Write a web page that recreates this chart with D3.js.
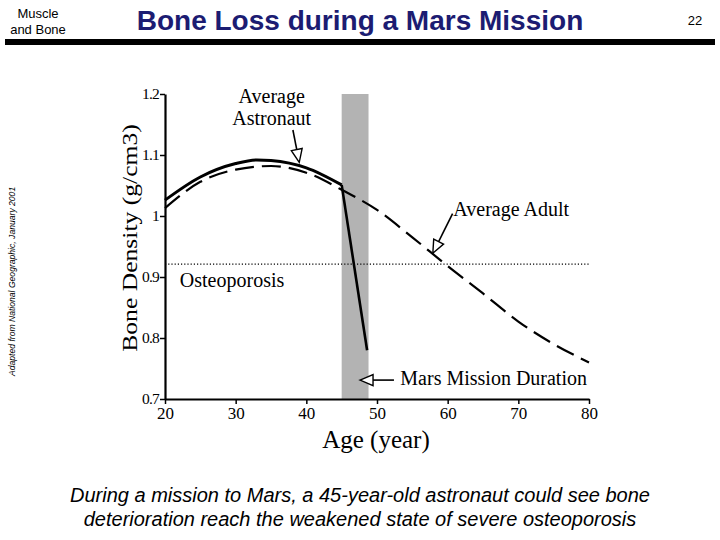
<!DOCTYPE html>
<html>
<head>
<meta charset="utf-8">
<script src="https://cdn.jsdelivr.net/npm/d3@7"></script>
<style>
  body { margin: 0; background: #fff; }
  svg { display: block; }
</style>
</head>
<body>
<svg id="chart" width="720" height="540"></svg>
<script>
"use strict";

// ages (x) and bone density (y)
var adultAges = [20, 25, 30, 35, 40, 45, 50, 55, 60, 65, 70, 75, 80];
var adultDensity = [1.013, 1.056, 1.076, 1.082, 1.071, 1.043, 1.010, 0.965, 0.918, 0.873, 0.827, 0.790, 0.760];

var astroAges = [20, 25, 30, 33, 35, 40, 45, 48.6];
var astroDensity = [1.026, 1.064, 1.086, 1.092, 1.091, 1.079, 1.051, 0.780];

var missionRange = [45, 48.8];
var osteoporosisLevel = 0.921;

var xTicks = [20, 30, 40, 50, 60, 70, 80];
var yTicks = [0.7, 0.8, 0.9, 1.0, 1.1, 1.2];

// annotation labels and arrows, in data coordinates
var labelTexts = [["Average", "Astronaut"], ["Average Adult"], ["Mars Mission Duration"], ["Osteoporosis"]];
var labelAt = [[35.1, 1.193], [60.8, 1.008], [53.3, 0.731], [22.1, 0.892]];
var labelAnchor = ["middle", "start", "start", "start"];
var arrowTail = [[38.1, 1.141], [60.7, 1.004], [52.4, 0.731]];
var arrowTip = [[39.0, 1.088], [57.9, 0.939], [47.6, 0.731]];

var captionLines = [
  "During a mission to Mars, a 45-year-old astronaut could see bone",
  "deterioration reach the weakened state of severe osteoporosis"
];

var svg = d3.select("#chart");
var serif = "'Liberation Serif', 'DejaVu Serif', serif";
var sans = "'Liberation Sans', Arial, sans-serif";

// slide header
svg.append("text").attr("x", 38).attr("y", 18)
  .attr("text-anchor", "middle").attr("font-family", sans).attr("font-size", 13)
  .text("Muscle");
svg.append("text").attr("x", 38).attr("y", 34)
  .attr("text-anchor", "middle").attr("font-family", sans).attr("font-size", 13)
  .text("and Bone");
svg.append("text").attr("x", 360).attr("y", 30)
  .attr("text-anchor", "middle").attr("font-family", sans).attr("font-size", 28)
  .attr("font-weight", "bold").attr("fill", "#1c1c72")
  .text("Bone Loss during a Mars Mission");
svg.append("text").attr("x", 695).attr("y", 25)
  .attr("text-anchor", "middle").attr("font-family", sans).attr("font-size", 13)
  .text("22");
svg.append("rect").attr("x", 5).attr("y", 39).attr("width", 710).attr("height", 6)
  .attr("fill", "#000");

svg.append("text")
  .attr("transform", "translate(15,376) rotate(-90)")
  .attr("font-family", sans).attr("font-size", 8.6).attr("font-style", "italic")
  .text("Adapted from National Geographic, January 2001");

// plot area
var margin = { left: 165, top: 94, right: 131, bottom: 141 };
var width = 720 - margin.left - margin.right;
var height = 540 - margin.top - margin.bottom;

var x = d3.scaleLinear().domain([20, 80]).range([0, width]);
var y = d3.scaleLinear().domain([0.7, 1.2]).range([height, 0]);

var g = svg.append("g")
  .attr("transform", "translate(" + margin.left + "," + margin.top + ")");

// mars mission band
g.append("rect")
  .attr("x", x(missionRange[0]))
  .attr("y", y(1.2))
  .attr("width", x(missionRange[1]) - x(missionRange[0]))
  .attr("height", y(0.7) - y(1.2))
  .attr("fill", "#b3b3b3");

// osteoporosis threshold
g.append("line")
  .attr("x1", x(20)).attr("x2", x(80))
  .attr("y1", y(osteoporosisLevel)).attr("y2", y(osteoporosisLevel))
  .attr("stroke", "#000").attr("stroke-width", 1.2)
  .attr("stroke-dasharray", "1.2,2");

var line = d3.line()
  .x(function (d) { return x(d[0]); })
  .y(function (d) { return y(d[1]); })
  .curve(d3.curveMonotoneX);

var adultData = d3.zip(adultAges, adultDensity);
var astroCurve = d3.zip(astroAges.slice(0, -1), astroDensity.slice(0, -1));
var astroDrop = d3.zip(astroAges.slice(-2), astroDensity.slice(-2));

g.append("path")
  .datum(adultData)
  .attr("d", line)
  .attr("fill", "none").attr("stroke", "#000").attr("stroke-width", 2.2)
  .attr("stroke-dasharray", "19,8");

g.append("path")
  .datum(astroCurve)
  .attr("d", line)
  .attr("fill", "none").attr("stroke", "#000").attr("stroke-width", 3);

g.append("path")
  .datum(astroDrop)
  .attr("d", d3.line().x(function (d) { return x(d[0]); }).y(function (d) { return y(d[1]); }))
  .attr("fill", "none").attr("stroke", "#000").attr("stroke-width", 2.6);

// axes
var yAxis = g.append("g")
  .call(d3.axisLeft(y).tickValues(yTicks).tickSize(5).tickSizeOuter(0).tickPadding(1)
    .tickFormat(function (d) { return d3.format("~g")(d); }));
var xAxis = g.append("g")
  .attr("transform", "translate(0," + height + ")")
  .call(d3.axisBottom(x).tickValues(xTicks).tickSize(5).tickSizeOuter(0).tickPadding(3));

[yAxis, xAxis].forEach(function (ax) {
  ax.select(".domain").attr("stroke-width", 2.2);
  ax.selectAll(".tick line").attr("stroke-width", 1.5);
  ax.selectAll("text").attr("font-family", serif).attr("fill", "#000");
});
yAxis.selectAll("text").attr("font-size", 15.5).attr("letter-spacing", -0.8);
xAxis.selectAll("text").attr("font-size", 17);

// axis titles
svg.append("text")
  .attr("transform", "translate(137,238) rotate(-90) scale(1.22,1)")
  .attr("text-anchor", "middle").attr("font-family", serif).attr("font-size", 21)
  .text("Bone Density (g/cm3)");
svg.append("text")
  .attr("x", 376).attr("y", 448)
  .attr("text-anchor", "middle").attr("font-family", serif).attr("font-size", 25)
  .text("Age (year)");

// annotations
labelTexts.forEach(function (lines, i) {
  var t = g.append("text")
    .attr("x", x(labelAt[i][0]))
    .attr("y", y(labelAt[i][1]))
    .attr("text-anchor", labelAnchor[i])
    .attr("dominant-baseline", "middle")
    .attr("font-family", serif).attr("font-size", 20);
  lines.forEach(function (s, k) {
    t.append("tspan").attr("x", x(labelAt[i][0])).attr("dy", k === 0 ? 0 : 22).text(s);
  });
});

arrowTail.forEach(function (tail, i) {
  var x0 = x(tail[0]), y0 = y(tail[1]);
  var x1 = x(arrowTip[i][0]), y1 = y(arrowTip[i][1]);
  var ang = Math.atan2(y1 - y0, x1 - x0);
  var headLen = 13, headHalf = 5.5;
  var bx = x1 - headLen * Math.cos(ang), by = y1 - headLen * Math.sin(ang);
  g.append("line")
    .attr("x1", x0).attr("y1", y0).attr("x2", bx).attr("y2", by)
    .attr("stroke", "#000").attr("stroke-width", 1.6);
  var nx = -Math.sin(ang) * headHalf, ny = Math.cos(ang) * headHalf;
  g.append("path")
    .attr("d", "M" + x1 + "," + y1 + "L" + (bx + nx) + "," + (by + ny) + "L" + (bx - nx) + "," + (by - ny) + "Z")
    .attr("fill", "#fff").attr("stroke", "#000").attr("stroke-width", 1.4);
});

// caption
captionLines.forEach(function (s, i) {
  svg.append("text")
    .attr("x", 360).attr("y", 502 + i * 24)
    .attr("text-anchor", "middle").attr("font-family", sans).attr("font-size", 20)
    .attr("font-style", "italic")
    .text(s);
});
</script>
</body>
</html>
